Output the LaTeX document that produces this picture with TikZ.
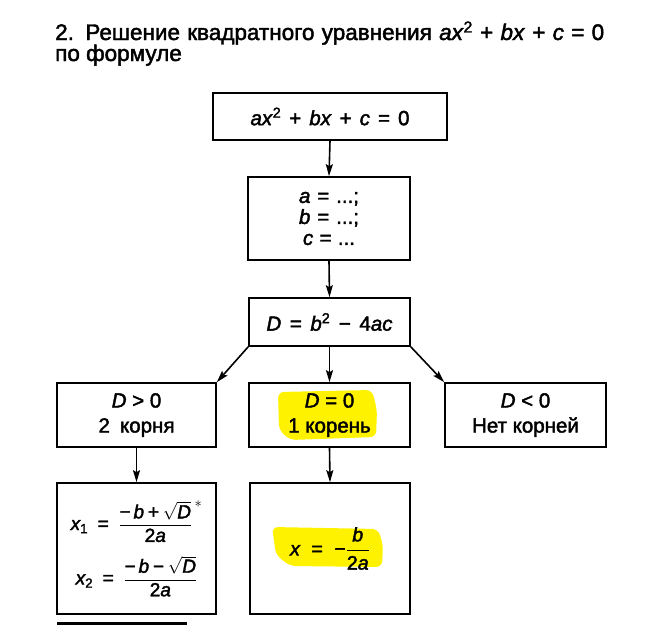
\documentclass[tikz,border=0pt]{standalone}
\usepackage{amsmath}
\usepackage{fontspec}
\setmainfont{Liberation Sans}[FakeBold=2]
\usetikzlibrary{arrows.meta}
\definecolor{hl}{RGB}{255,242,0}
\newcommand\mi[1]{\textit{#1}}
\newcommand\Peq{\mathrel{\text{=}}}
\newcommand\Pplus{\mathbin{\text{+}}}
\newcommand\Pminus{\mathbin{\text{−}}}
\newcommand\St[2]{\makebox[#1pt][s]{#2}}
\begin{document}
\begin{tikzpicture}[x=1pt,y=-1pt,
  box/.style={draw, line width=1.6pt, inner sep=0pt, align=center, font=\fontsize{20.5}{21}\selectfont},
  two/.style={font=\fontsize{20.5}{25}\selectfont},
  arr/.style={line width=1.6pt, -{Stealth[length=12pt,width=7pt,inset=2pt]}},
  ttl/.style={anchor=base west, inner sep=0pt, font=\fontsize{22.5}{22}\selectfont}
]
\useasboundingbox (0,0) rectangle (654,625);
% highlights
\fill[hl, rounded corners=6pt] (278,392) -- (372,390) -- (377,410) -- (376,437) -- (290,440) -- (279,430) -- cycle;
\fill[hl, rounded corners=6pt] (272,527) -- (378,529) -- (383,545) -- (382,567) -- (290,566) -- (276,555) -- cycle;
% title
\node[ttl] (title) at (55,40) {\St{549}{2. Решение квадратного уравнения \mi{ax}\textsuperscript{2} + \mi{bx} + \mi{c} = 0}};
\node[ttl] (title2) at (55,61) {по формуле};
% boxes
\node[box, minimum width=234pt, minimum height=47pt] (eq) at (330,116.5) {\St{159}{\mi{ax}\textsuperscript{2} + \mi{bx} + \mi{c} = 0}};
\node[box, minimum width=162pt, minimum height=83pt] (abc) at (329,218.5) {\St{60}{\mi{a} = ...;}\\ \St{60}{\mi{b} = ...;}\\ \St{52}{\mi{c} = ...}};
\node[box, minimum width=161pt, minimum height=48pt] (D) at (329.5,322) {\St{126}{\mi{D} = \mi{b}\textsuperscript{2} − 4\mi{ac}}};
\node[box, two, minimum width=159pt, minimum height=64pt] (pos) at (136.5,415) {\mi{D} > 0\\ \St{76}{2 корня}};
\node[box, two, minimum width=161pt, minimum height=64pt] (zero) at (329.5,415) {\mi{D} = 0\\ 1 корень};
\node[box, two, minimum width=161pt, minimum height=64pt] (neg) at (525.5,415) {\mi{D} < 0\\ Нет корней};
\node[box, font=\fontsize{19}{21}\selectfont, minimum width=159pt, minimum height=131pt] (roots) at (136.5,548.5)
  {$\mi{x}_{\text{1}} \;\Peq\; {\dfrac{\text{−}\,\mi{b} \Pplus \sqrt{\mi{D}}}{\text{2}\mi{a}}}^{\,*}$\\[13pt]
   $\mi{x}_{\text{2}} \;\Peq\; \dfrac{\text{−}\,\mi{b} \Pminus \sqrt{\mi{D}}}{\text{2}\mi{a}}$};
\node[box, font=\fontsize{19.5}{21}\selectfont, minimum width=160pt, minimum height=131pt] (root) at (330,548.5)
  {$\mi{x} \;\Peq\; \text{−}\dfrac{\mi{b}}{\text{2}\mi{a}}$};
% connectors
\draw[arr] (eq.south) -- (abc.north);
\draw[arr] (abc.south) -- (D.north);
\draw[arr] (D.south) -- (zero.north);
\draw[arr] (D.south west) -- (pos.north east);
\draw[arr] (D.south east) -- (neg.north west);
\draw[arr] (pos.south) -- (roots.north);
\draw[arr] (zero.south) -- (root.north);
% footnote rule
\draw[line width=2.5pt] (57,623.5) -- (187,623.5);
\end{tikzpicture}
\end{document}
